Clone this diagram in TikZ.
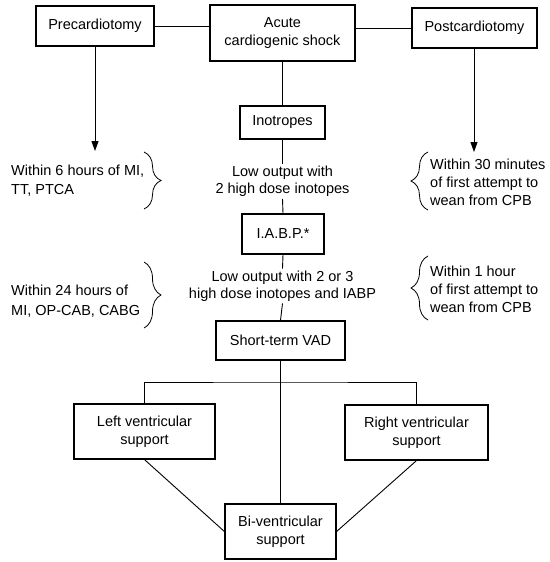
\documentclass[tikz,border=0pt]{standalone}
\usepackage{fontspec}
\setmainfont{Liberation Sans}
\usetikzlibrary{arrows.meta,decorations.pathreplacing}
\begin{document}
\begin{tikzpicture}[x=1pt,y=-1pt,
  box/.style={draw,line width=1.2pt,inner sep=0pt,align=center,font=\fontsize{14.5}{17.5}\selectfont},
  txt/.style={inner sep=2pt,align=center,font=\fontsize{14.5}{17}\selectfont},
  side/.style={inner sep=0pt,align=left,anchor=west,font=\fontsize{14.5}{18}\selectfont},
  conn/.style={line width=0.9pt},
  arr/.style={conn,-{Triangle[width=7pt,length=10pt]}},
  brc/.style={line width=0.8pt,decorate,decoration={brace,amplitude=17pt,aspect=0.5}}]
\useasboundingbox (0,0) rectangle (549,562);
% boxes
\node[box,minimum width=118pt,minimum height=40pt] (pre) at (95,26) {Precardiotomy};
\node[box,minimum width=145pt,minimum height=56pt] (acute) at (282.5,33) {Acute\\cardiogenic shock};
\node[box,minimum width=125pt,minimum height=40pt] (post) at (474.5,28) {Postcardiotomy};
\node[box,minimum width=85pt,minimum height=33pt] (ino) at (282.5,122.5) {Inotropes};
\node[txt] (low1) at (282.5,181.5) {Low output with\\2 high dose inotopes};
\node[box,minimum width=82pt,minimum height=40pt] (iabp) at (283,234) {I.A.B.P.*};
\node[txt] (low2) at (282.5,286) {Low output with 2 or 3\\high dose inotopes and IABP};
\node[box,minimum width=129pt,minimum height=39pt] (vad) at (280.5,340.5) {Short-term VAD};
\node[box,minimum width=141pt,minimum height=55pt] (lv) at (144.5,431.5) {Left ventricular\\support};
\node[box,minimum width=143pt,minimum height=55pt] (rv) at (416.5,432.5) {Right ventricular\\support};
\node[box,minimum width=111pt,minimum height=55pt] (bi) at (280.5,531.5) {Bi-ventricular\\support};
% side texts
\node[side,font=\fontsize{14.5}{19.5}\selectfont] (t1) at (11,180.5) {Within 6 hours of MI,\\TT, PTCA};
\node[side,font=\fontsize{14.5}{19.5}\selectfont] (t2) at (11,301) {Within 24 hours of\\MI, OP-CAB, CABG};
\node[side] (t3) at (430,182) {Within 30 minutes\\of first attempt to\\wean from CPB};
\node[side] (t4) at (430,289) {Within 1 hour\\of first attempt to\\wean from CPB};
% coordinates
\coordinate (preend) at (95,151);
\coordinate (postend) at (474,152);
\coordinate (bar) at (280.5,382);
\coordinate (b1a) at (144,152);
\coordinate (b1b) at (144,209);
\coordinate (b2a) at (144,262);
\coordinate (b2b) at (144,328);
\coordinate (b3a) at (428,210);
\coordinate (b3b) at (428,152);
\coordinate (b4a) at (428,320);
\coordinate (b4b) at (428,256);
% connectors
\draw[conn] (pre.east) -- (pre.east -| acute.west);
\draw[conn] (post.west) -- (post.west -| acute.east);
\draw[conn] (acute.south -| ino.north) -- (ino.north);
\draw[arr] (pre.south) -- (preend);
\draw[arr] (post.south -| postend) -- (postend);
\draw[conn] (ino.south) -- (low1.north);
\draw[conn] (low1.south) -- (iabp.north);
\draw[conn] (iabp.south) -- (low2.north);
\draw[conn] (low2.south) -- (vad.north);
\draw[conn] (vad.south) -- (bi.north);
\draw[conn] (lv.north) |- (bar) -| (rv.north);
\draw[conn] (lv.south) -- (bi.west);
\draw[conn] (rv.south) -- (bi.east);
% braces
\draw[brc] (b1a) -- (b1b);
\draw[brc] (b2a) -- (b2b);
\draw[brc] (b3a) -- (b3b);
\draw[brc] (b4a) -- (b4b);
\end{tikzpicture}
\end{document}
